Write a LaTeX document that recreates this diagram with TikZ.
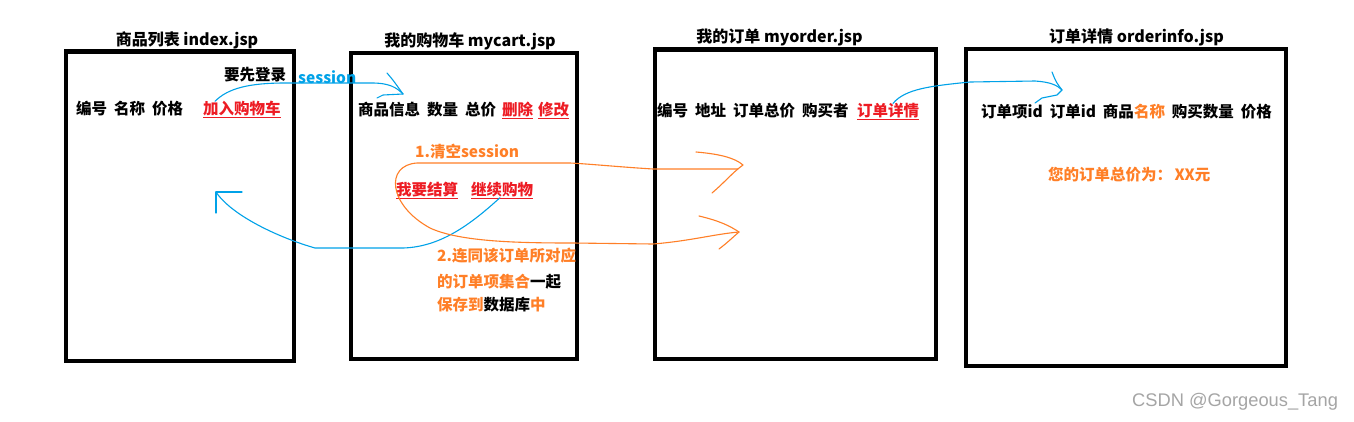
\documentclass[tikz,border=0pt]{standalone}
\usepackage{fontspec}
\setmainfont{Noto Sans CJK SC}
\newfontfamily\wmfont{Liberation Sans}
\definecolor{pred}{RGB}{237,28,36}
\definecolor{porange}{RGB}{255,127,39}
\definecolor{pblue}{RGB}{0,162,232}
\definecolor{wmgray}{RGB}{165,165,165}
\newcommand{\gap}{\hspace{0.45em}}
\begin{document}
\begin{tikzpicture}[x=1pt,y=-1pt,
  page/.style={draw=black, line width=4.5pt, anchor=north west, inner sep=0pt, outer sep=0pt},
  title/.style={font=\fontsize{16}{18}\selectfont\bfseries, inner sep=0pt},
  txt/.style={font=\fontsize{15.5}{17}\selectfont\bfseries, inner sep=0pt, anchor=west},
  link/.style={txt, text=pred},
  note/.style={txt, text=porange},
  uline/.style={draw=pred, line width=1pt},
  blueline/.style={draw=pblue, line width=1.1pt, line cap=round, line join=round},
  orangeline/.style={draw=porange, line width=1.1pt, line cap=round, line join=round},
]
\fill[white] (0,0) rectangle (1354,421);
\useasboundingbox (0,0) rectangle (1354,421);

% pages
\node[page, minimum width=228pt, minimum height=309.5pt] (b1) at (66,51.5) {};
\node[page, minimum width=226pt, minimum height=306pt] (b2) at (351,53) {};
\node[page, minimum width=281pt, minimum height=309.5pt] (b3) at (655,49.5) {};
\node[page, minimum width=320pt, minimum height=317pt] (b4) at (966,49) {};

% titles
\node[title] (t1) at (187,40) {商品列表 index.jsp};
\node[title] (t2) at (470,41) {我的购物车 mycart.jsp};
\node[title] (t3) at (779.5,37) {我的订单 myorder.jsp};
\node[title] (t4) at (1136.5,37) {订单详情 orderinfo.jsp};

% page 1
\node[txt] (login) at (224,75) {要先登录};
\node[txt, text=pblue] (sess) at (298,77) {session};
\node[txt] (cols1) at (76,109) {编号\gap 名称\gap 价格};
\node[link] (add) at (203,109) {加入购物车};

% page 2
\node[txt] (cols2) at (358,110) {商品信息\gap 数量\gap 总价};
\node[link] (del) at (502,110) {删除};
\node[link] (mod) at (538,110) {修改};
\node[note] (n1) at (415,152) {1.清空session};
\node[link] (pay) at (396,190) {我要结算};
\node[link] (cont) at (471,190) {继续购物};
\node[note] (n2a) at (437,256) {2.连同该订单所对应};
\node[note] (n2b) at (437,282) {的订单项集合\textcolor{black}{一起}};
\node[note] (n2c) at (437,305) {保存到\textcolor{black}{数据库}中};

% page 3
\node[txt] (cols3) at (657,111) {编号\gap 地址\gap 订单总价\gap 购买者};
\node[link] (det) at (857,111) {订单详情};

% page 4
\node[txt] (cols4) at (981,112) {订单项id\gap 订单id\gap 商品\textcolor{porange}{名称}\gap 购买数量\gap 价格};
\node[note] (total) at (1048,175) {您的订单总价为：\hspace{0.15em}XX元};

% watermark
\node[anchor=west, inner sep=0pt, text=wmgray, font=\wmfont\fontsize{18.3}{20}\selectfont] (wm) at (1132,402) {CSDN @Gorgeous\_Tang};

% underlines
\foreach \n in {add,del,mod,pay,cont,det}
  \draw[uline] ([yshift=-0.8pt]\n.south west) -- ([yshift=-0.8pt]\n.south east);

% tips
\coordinate (tipA) at (403,94);
\coordinate (tipB) at (1062,90);
\coordinate (tipC) at (216,192);
\coordinate (tipD) at (743,165);
\coordinate (tipE) at (739,232);

% blue: add to cart -> cart (session)
\draw[blueline] ([xshift=12pt]add.north west) .. controls (228,88) and (250,83) .. (285,83)
  -- (372,83) .. controls (390,83) and (397,88) .. (tipA);
\draw[blueline] (387,73) .. controls (393,80) .. (tipA);
\draw[blueline] (377,98) -- (383,95) -- (tipA);

% blue: order detail -> orderinfo
\draw[blueline] ([xshift=36pt]det.north west) .. controls (905,89) and (930,86) .. (970,82)
  -- (1035,81) .. controls (1050,82) and (1057,85) .. (tipB);
\draw[blueline] (1052,72) .. controls (1056,82) .. (tipB);
\draw[blueline] (1035,103) -- (1042,98) -- (1057,95) -- (tipB);

% blue: continue shopping -> index
\draw[blueline] ([xshift=29pt]cont.south west) .. controls (470,225) and (440,247) .. (403,248)
  -- (315,248) .. controls (280,238) and (232,216) .. (tipC);
\draw[blueline] (tipC) -- (242,192);
\draw[blueline] (tipC) -- (216,213);

% orange loop: checkout -> my orders
\draw[orangeline] (738,169) -- (653,169) .. controls (620,167) and (590,164) .. (570,163)
  -- (417,163) .. controls (385,165) and (388,205) .. (430,228)
  .. controls (460,242) and (520,243) .. (573,243) -- (653,244)
  .. controls (690,241) and (715,234) .. (tipE);
\draw[orangeline] (696,152) .. controls (720,154) and (735,158) .. (tipD)
  .. controls (733,172) and (725,182) .. (712,193);
\draw[orangeline] (699,216) .. controls (720,221) and (730,226) .. (tipE)
  .. controls (732,238) and (727,243) .. (719,249);
\end{tikzpicture}
\end{document}
